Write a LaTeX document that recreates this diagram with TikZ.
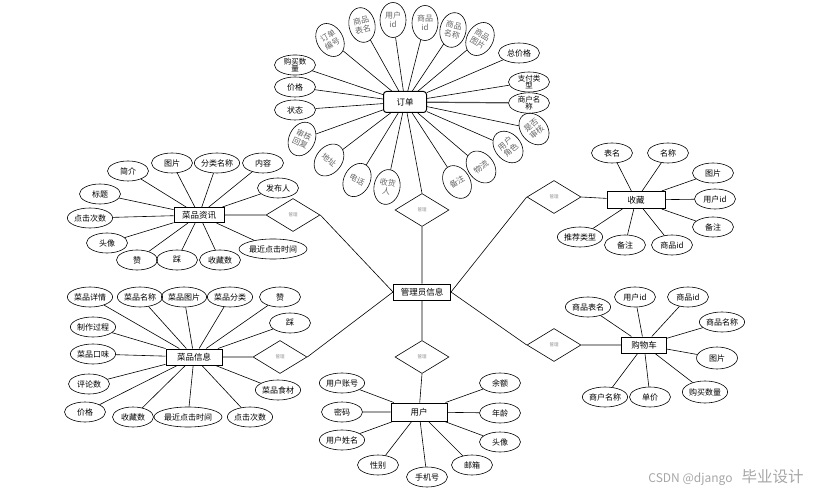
\documentclass[tikz,border=0pt]{standalone}
\usepackage{fontspec}
\setmainfont{Noto Sans CJK SC}
\usetikzlibrary{shapes.geometric}

\tikzset{
  ent/.style={draw, line width=1pt, minimum height=16pt, inner sep=2pt, font=\fontsize{8.5}{9}\selectfont},
  attr/.style={ellipse, draw, minimum width=41pt, minimum height=20pt, inner sep=0pt, font=\fontsize{8}{9}\selectfont},
  battr/.style={attr, align=center, font=\fontsize{7.5}{7.5}\selectfont},
  vattr/.style={ellipse, draw, minimum width=26pt, minimum height=35pt, inner sep=0pt, align=center, text=black!60, font=\fontsize{8}{9}\selectfont},
  rel/.style={diamond, draw, minimum width=54pt, minimum height=33pt, inner sep=0pt, text=black!45, font=\fontsize{4.5}{5}\selectfont},
}

\begin{document}
\begin{tikzpicture}[x=1pt, y=-1pt, line width=0.6pt]
  \useasboundingbox (0,0) rectangle (824,494);
  % entities
  \node[ent, rounded corners=3pt, minimum width=43pt, minimum height=21pt] (order) at (405,102) {订单};
  \node[ent, minimum width=50pt, minimum height=15pt] (news) at (199,215) {菜品资讯};
  \node[ent, minimum width=56pt] (food) at (194,357) {菜品信息};
  \node[ent, minimum width=57pt] (admin) at (422,292) {管理员信息};
  \node[ent, minimum width=56pt, minimum height=18pt] (user) at (419,412) {用户};
  \node[ent, minimum width=58pt, minimum height=17pt] (fav) at (636,200) {收藏};
  \node[ent, minimum width=45pt] (cart) at (644,345) {购物车};

  % relations
  \node[rel] (r1) at (293,215) {管理};
  \node[rel] (r2) at (280,357) {管理};
  \node[rel] (r3) at (422,210) {管理};
  \node[rel] (r4) at (422,357) {管理};
  \node[rel] (r5) at (554,197) {管理};
  \node[rel] (r6) at (554,345) {管理};
  \draw (admin.west) -- (r1.east) (r1.west) -- (news);
  \draw (admin.west) -- (r2.east) (r2.west) -- (food);
  \draw (admin) -- (r3.south) (r3.north) -- (order);
  \draw (admin) -- (r4.north) (r4.south) -- (user);
  \draw (admin.east) -- (r5.west) (r5.east) -- (fav);
  \draw (admin.east) -- (r6.west) (r6.east) -- (cart);

  % order attributes
  \node[vattr, rotate=30] (o1) at (330,40) {订单\\编号};
  \node[vattr, rotate=12] (o2) at (362,25) {商品\\表名};
  \node[vattr] (o3) at (393,20) {用户\\id};
  \node[vattr] (o4) at (425,23) {商品\\id};
  \node[vattr, rotate=-12] (o5) at (453,30) {商品\\名称};
  \node[vattr, rotate=-30] (o6) at (480,39) {商品\\图片};
  \node[attr] (o7) at (519,53) {总价格};
  \node[battr] (o8) at (529,82) {支付类\\型};
  \node[battr] (o9) at (529,103) {商户名\\称};
  \node[vattr, rotate=40] (o10) at (534,129) {是否\\审核};
  \node[vattr, rotate=40] (o11) at (508,147) {用户\\角色};
  \node[vattr, rotate=38] (o12) at (481,167) {物流};
  \node[vattr, rotate=32] (o13) at (457,182) {备注};
  \node[vattr, rotate=-10] (o14) at (387,187) {收货\\人};
  \node[vattr, rotate=-28] (o15) at (357,180) {电话};
  \node[vattr, rotate=-38] (o16) at (329,160) {地址};
  \node[vattr, rotate=-25] (o17) at (302,139) {审核\\回复};
  \node[attr] (o18) at (295,110) {状态};
  \node[attr] (o19) at (295,87) {价格};
  \node[battr] (o20) at (295,65) {购买数\\量};
  \draw (order) -- (o1) (order) -- (o2) (order) -- (o3) (order) -- (o4) (order) -- (o5)
        (order) -- (o6) (order) -- (o7) (order) -- (o8) (order) -- (o10) (order) -- (o11)
        (order) -- (o12) (order) -- (o13) (order) -- (o14) (order) -- (o15) (order) -- (o16)
        (order) -- (o17) (order) -- (o18) (order) -- (o19) (order) -- (o20);
  \draw[line width=1.2pt, black!70] (order) -- (o9);

  % news attributes
  \node[attr] (n1) at (128,171) {简介};
  \node[attr] (n2) at (172,163) {图片};
  \node[attr] (n3) at (217,163) {分类名称};
  \node[attr] (n4) at (263,163) {内容};
  \node[attr] (n5) at (278,188) {发布人};
  \node[attr] (n6) at (100,194) {标题};
  \node[attr] (n7) at (90,218) {点击次数};
  \node[attr] (n8) at (107,243) {头像};
  \node[attr] (n9) at (137,260) {赞};
  \node[attr] (n10) at (177,260) {踩};
  \node[attr] (n11) at (220,260) {收藏数};
  \node[attr] (n12) at (273,249) {最近点击时间};
  \draw (news) -- (n1) (news) -- (n2) (news) -- (n3) (news) -- (n4) (news) -- (n5) (news) -- (n6)
        (news) -- (n7) (news) -- (n8) (news) -- (n9) (news) -- (n10) (news) -- (n11) (news) -- (n12);

  % food attributes
  \node[attr] (f1) at (90,297) {菜品详情};
  \node[attr] (f2) at (140,297) {菜品名称};
  \node[attr] (f3) at (184,297) {菜品图片};
  \node[attr] (f4) at (230,297) {菜品分类};
  \node[attr] (f5) at (280,297) {赞};
  \node[attr] (f6) at (290,323) {踩};
  \node[attr] (f7) at (93,327) {制作过程};
  \node[attr] (f8) at (93,354) {菜品口味};
  \node[attr] (f9) at (89,384) {评论数};
  \node[attr] (f10) at (85,412) {价格};
  \node[attr] (f11) at (133,417) {收藏数};
  \node[attr] (f12) at (188,417) {最近点击时间};
  \node[attr] (f13) at (250,417) {点击次数};
  \node[attr] (f14) at (278,390) {菜品食材};
  \draw (food) -- (f1) (food) -- (f2) (food) -- (f3) (food) -- (f4) (food) -- (f5) (food) -- (f6)
        (food) -- (f7) (food) -- (f8) (food) -- (f9) (food) -- (f10) (food) -- (f11) (food) -- (f12)
        (food) -- (f13) (food) -- (f14);

  % user attributes
  \node[attr] (u1) at (342,383) {用户账号};
  \node[attr] (u2) at (342,412) {密码};
  \node[attr] (u3) at (342,440) {用户姓名};
  \node[attr] (u4) at (378,465) {性别};
  \node[attr] (u5) at (427,477) {手机号};
  \node[attr] (u6) at (472,465) {邮箱};
  \node[attr] (u7) at (500,442) {头像};
  \node[attr] (u8) at (500,413) {年龄};
  \node[attr] (u9) at (500,383) {余额};
  \draw (user) -- (u1) (user) -- (u2) (user) -- (u3) (user) -- (u4) (user) -- (u5)
        (user) -- (u6) (user) -- (u7) (user) -- (u8) (user) -- (u9);

  % fav attributes
  \node[attr] (s1) at (612,153) {表名};
  \node[attr] (s2) at (668,153) {名称};
  \node[attr] (s3) at (713,173) {图片};
  \node[attr] (s4) at (715,199) {用户id};
  \node[attr] (s5) at (713,227) {备注};
  \node[attr] (s6) at (672,245) {商品id};
  \node[attr] (s7) at (625,245) {备注};
  \node[attr] (s8) at (580,237) {推荐类型};
  \draw (fav) -- (s1) (fav) -- (s2) (fav) -- (s3) (fav) -- (s4) (fav) -- (s5) (fav) -- (s6)
        (fav) -- (s7) (fav) -- (s8);

  % cart attributes
  \node[attr] (c1) at (588,307) {商品表名};
  \node[attr] (c2) at (635,297) {用户id};
  \node[attr] (c3) at (688,297) {商品id};
  \node[attr] (c4) at (722,322) {商品名称};
  \node[attr, minimum height=22pt] (c5) at (717,358) {图片};
  \node[attr, minimum height=22pt] (c6) at (705,392) {购买数量};
  \node[attr] (c7) at (650,397) {单价};
  \node[attr] (c8) at (605,397) {商户名称};
  \draw (cart) -- (c1) (cart) -- (c2) (cart) -- (c3) (cart) -- (c4) (cart) -- (c5) (cart) -- (c6)
        (cart) -- (c7) (cart) -- (c8);

  \node[text=black!35, inner sep=0pt] (mark) at (726,478) {{\fontsize{12}{13}\selectfont CSDN @django}\hspace{9pt}{\fontsize{15.5}{16}\selectfont 毕业设计}};
\end{tikzpicture}
\end{document}
